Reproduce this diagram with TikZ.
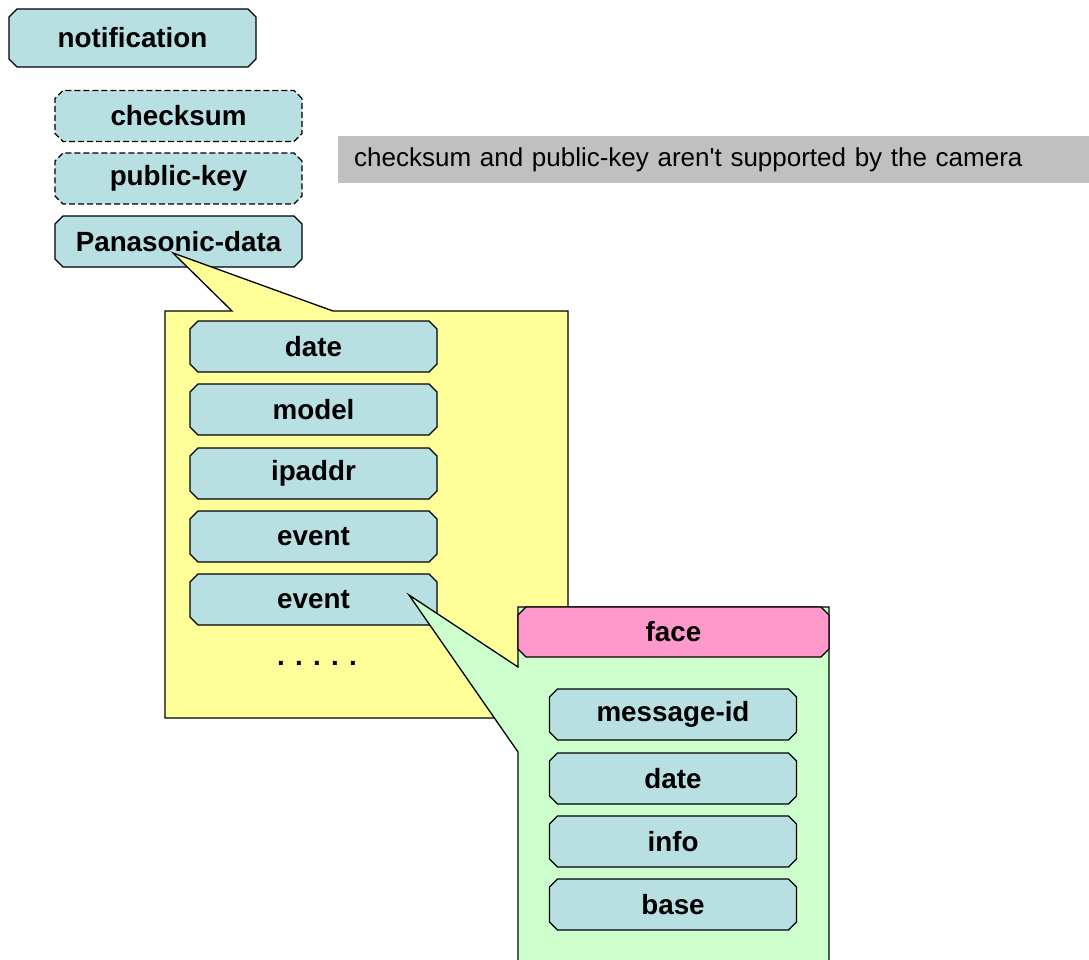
\documentclass[tikz,border=0pt]{standalone}
\usepackage{fontspec}
\setmainfont{Liberation Sans}
\usetikzlibrary{shapes.misc}
\definecolor{boxfill}{HTML}{B8DFE2}
\definecolor{yellowfill}{HTML}{FFFF99}
\definecolor{greenfill}{HTML}{CCFFCC}
\definecolor{pinkfill}{HTML}{FF99CC}
\definecolor{notegray}{HTML}{C0C0C0}
\tikzset{
  field/.style={chamfered rectangle, chamfered rectangle xsep=4pt, chamfered rectangle ysep=4pt,
    draw=black, line width=1.3pt, fill=boxfill, minimum width=247pt, minimum height=51pt,
    inner sep=0pt, font=\fontsize{27.8}{32}\selectfont\bfseries},
  optfield/.style={field, dashed, dash pattern=on 6pt off 3pt},
  callout/.style={draw=black, line width=1.3pt},
  notebox/.style={fill=notegray, minimum width=751pt, minimum height=47pt, inner sep=0pt,
    text width=719pt, align=left, font=\fontsize{26}{30}\selectfont}
}
\begin{document}
\begin{tikzpicture}[x=1pt,y=-1pt]
\useasboundingbox (0,0) rectangle (1089,960);
% top level
\node[field, minimum height=58pt] (notification) at (132.5,38) {notification};
\node[optfield] (checksum) at (178.5,116) {checksum};
\node[optfield] (publickey) at (178.5,178.5) {public-key};
\node[field] (panasonic) at (178.5,241.5) {Panasonic-data};
\node[notebox, anchor=west] (note) at (338,159.5) {checksum and public-key aren\textquotesingle t supported by the camera};
% yellow callout
\coordinate (ytip) at (173,253);
\draw[callout, fill=yellowfill] (165,311) -- (232,311) -- (ytip) -- (333,311) -- (568,311)
  -- (568,718) -- (165,718) -- cycle;
\node[field] (date) at (313.5,346.5) {date};
\node[field] (model) at (313.5,409.5) {model};
\node[field] (ipaddr) at (313.5,473.5) {ipaddr};
\node[field] (event1) at (313.5,536.5) {event};
\node[field] (event2) at (313.5,599.5) {event};
\node[font=\fontsize{27.8}{32}\selectfont\bfseries] (dots) at (317,663) {. . . . .};
% green callout
\coordinate (gtip) at (409,595);
\draw[callout, fill=greenfill] (518,607) -- (829,607) -- (829,970) -- (518,970) -- (518,752)
  -- (gtip) -- (518,667) -- cycle;
\node[field, fill=pinkfill, minimum width=311pt, minimum height=50pt] (face) at (673.5,632) {face};
\node[field] (msgid) at (673,714.5) {message-id};
\node[field] (fdate) at (673,778.5) {date};
\node[field] (info) at (673,841.5) {info};
\node[field] (base) at (673,904.5) {base};
\end{tikzpicture}
\end{document}
